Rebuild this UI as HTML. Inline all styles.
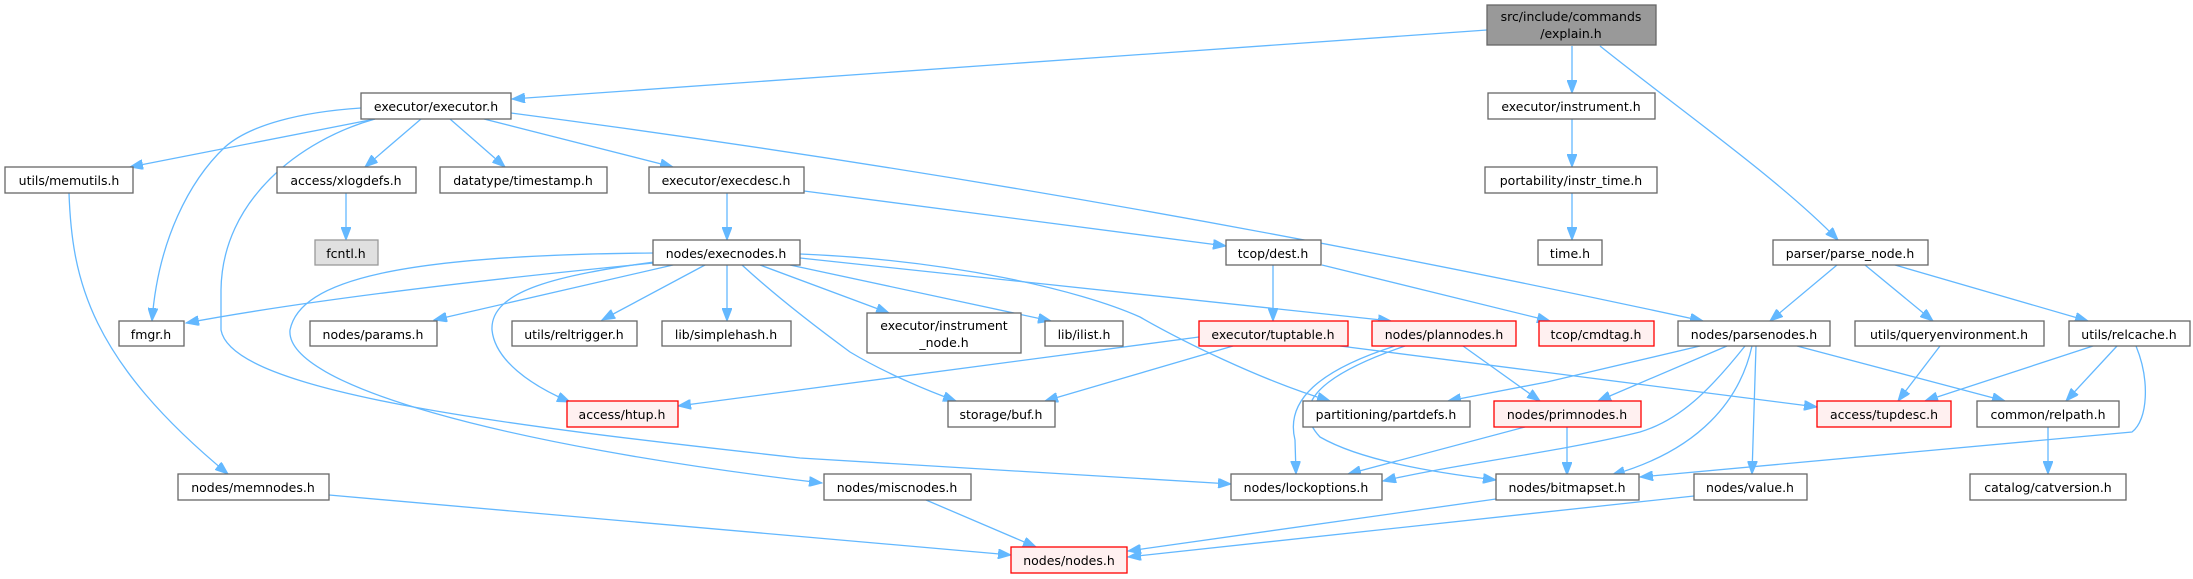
<!DOCTYPE html>
<html><head><meta charset="utf-8"><style>
html,body{margin:0;padding:0;background:#fff;}
svg{display:block;}
text{font-family:"DejaVu Sans","Liberation Sans",sans-serif;font-size:12.5px;fill:#000;text-anchor:middle;}
.e{fill:none;stroke:#63b8ff;stroke-width:1.3;marker-end:url(#a);}
.n{fill:#fff;stroke:#666;stroke-width:1.3;}
.r{fill:#fff0f0;stroke:#ff0000;stroke-width:1.3;}
</style></head><body>
<svg width="2193" height="579" viewBox="0 0 2193 579" xmlns="http://www.w3.org/2000/svg">
<defs><marker id="a" markerUnits="userSpaceOnUse" markerWidth="14" markerHeight="10" refX="13" refY="5" orient="auto"><path d="M0,0 L13,5 L0,10 z" fill="#63b8ff" stroke="#63b8ff"/></marker></defs>
<!-- edges -->
<path class="e" d="M1487,30 L512,99"/>
<path class="e" d="M1572,46 L1572,93"/>
<path class="e" d="M1600,46 C1680,110 1780,180 1838,240"/>
<path class="e" d="M1572,119 L1572,167"/>
<path class="e" d="M1572,193 L1572,240"/>
<path class="e" d="M375,119 L130,167"/>
<path class="e" d="M421,119 L365,167"/>
<path class="e" d="M450,119 L505,167"/>
<path class="e" d="M484,119 L673,167"/>
<path class="e" d="M511,113 Q1100,190 1703,321"/>
<path class="e" d="M361,108 C300,112 250,125 225,147 C190,180 158,240 152,321"/>
<path class="e" d="M375,119 C300,140 222,200 221,290 L221,330 C232,392 500,425 800,458 L1231,484"/>
<path class="e" d="M69,193 C72,280 90,360 228,474"/>
<path class="e" d="M346,193 L346,240"/>
<path class="e" d="M727,193 L727,240"/>
<path class="e" d="M804,191 L1226,246"/>
<path class="e" d="M1273,265 L1273,321"/>
<path class="e" d="M1322,265 L1550,321"/>
<path class="e" d="M654,263 C500,278 320,298 186,323"/>
<path class="e" d="M673,265 L434,320"/>
<path class="e" d="M705,265 L602,320"/>
<path class="e" d="M727,265 L727,321"/>
<path class="e" d="M760,265 L889,313"/>
<path class="e" d="M790,265 L1051,321"/>
<path class="e" d="M742,265 C780,300 820,330 850,352 C880,370 920,388 956,401"/>
<path class="e" d="M654,262 C560,275 490,290 492,330 C495,360 530,385 570,402"/>
<path class="e" d="M654,253 C400,255 300,280 290,330 C285,385 500,445 822,483"/>
<path class="e" d="M800,254 C950,260 1080,290 1140,317 C1180,340 1260,380 1330,401"/>
<path class="e" d="M800,258 L1391,321"/>
<path class="e" d="M1199,337 L678,406"/>
<path class="e" d="M1233,346 L1045,401"/>
<path class="e" d="M1340,346 L1817,407"/>
<path class="e" d="M1395,346 C1320,370 1285,400 1295,440 L1296,474"/>
<path class="e" d="M1405,346 C1320,375 1290,405 1320,437 C1360,460 1430,472 1496,480"/>
<path class="e" d="M1463,346 L1540,401"/>
<path class="e" d="M1837,265 L1770,321"/>
<path class="e" d="M1865,265 L1933,321"/>
<path class="e" d="M1895,265 L2088,321"/>
<path class="e" d="M1700,346 L1547,382 L1448,401"/>
<path class="e" d="M1727,346 L1598,401"/>
<path class="e" d="M1745,346 C1710,390 1680,420 1640,432 C1560,452 1450,465 1383,481"/>
<path class="e" d="M1752,346 C1740,400 1700,450 1612,475"/>
<path class="e" d="M1756,346 L1752,474"/>
<path class="e" d="M1797,346 L2005,401"/>
<path class="e" d="M1940,346 L1898,401"/>
<path class="e" d="M2093,346 L1925,401"/>
<path class="e" d="M2117,346 L2066,401"/>
<path class="e" d="M2136,346 C2150,380 2148,420 2132,432 L1640,477"/>
<path class="e" d="M2048,427 L2048,474"/>
<path class="e" d="M1525,427 L1348,474"/>
<path class="e" d="M1567,427 L1567,475"/>
<path class="e" d="M1496,499 L1128,551"/>
<path class="e" d="M1694,496 L1128,557"/>
<path class="e" d="M926,500 L1036,547"/>
<path class="e" d="M329,495 L1011,555"/>
<!-- nodes -->
<rect x="1487" y="5" width="169" height="40" fill="#999" stroke="#666" stroke-width="1.3"/>
<text x="1571" y="21">src/include/commands</text><text x="1571" y="38">/explain.h</text>
<rect class="n" x="361" y="93" width="150" height="26"/><text x="436" y="111">executor/executor.h</text>
<rect class="n" x="1488" y="93" width="167" height="26"/><text x="1571" y="111">executor/instrument.h</text>
<rect class="n" x="5" y="167" width="128" height="26"/><text x="69" y="185">utils/memutils.h</text>
<rect class="n" x="277" y="167" width="139" height="26"/><text x="346" y="185">access/xlogdefs.h</text>
<rect class="n" x="440" y="167" width="167" height="26"/><text x="523" y="185">datatype/timestamp.h</text>
<rect class="n" x="649" y="167" width="155" height="26"/><text x="726" y="185">executor/execdesc.h</text>
<rect class="n" x="1485" y="167" width="172" height="26"/><text x="1571" y="185">portability/instr_time.h</text>
<rect x="315" y="240" width="63" height="25" fill="#e0e0e0" stroke="#999" stroke-width="1.3"/><text x="346" y="258">fcntl.h</text>
<rect class="n" x="653" y="240" width="147" height="25"/><text x="726" y="258">nodes/execnodes.h</text>
<rect class="n" x="1226" y="240" width="95" height="25"/><text x="1273" y="258">tcop/dest.h</text>
<rect class="n" x="1538" y="240" width="64" height="25"/><text x="1570" y="258">time.h</text>
<rect class="n" x="1773" y="240" width="155" height="25"/><text x="1850" y="258">parser/parse_node.h</text>
<rect class="n" x="119" y="321" width="65" height="25"/><text x="151" y="339">fmgr.h</text>
<rect class="n" x="310" y="321" width="127" height="25"/><text x="373" y="339">nodes/params.h</text>
<rect class="n" x="512" y="321" width="125" height="25"/><text x="574" y="339">utils/reltrigger.h</text>
<rect class="n" x="662" y="321" width="129" height="25"/><text x="726" y="339">lib/simplehash.h</text>
<rect class="n" x="867" y="313" width="154" height="40"/><text x="944" y="330">executor/instrument</text><text x="944" y="347">_node.h</text>
<rect class="n" x="1045" y="321" width="78" height="25"/><text x="1084" y="339">lib/ilist.h</text>
<rect class="r" x="1199" y="321" width="149" height="25"/><text x="1273" y="339">executor/tuptable.h</text>
<rect class="r" x="1372" y="321" width="144" height="25"/><text x="1444" y="339">nodes/plannodes.h</text>
<rect class="r" x="1539" y="321" width="115" height="25"/><text x="1596" y="339">tcop/cmdtag.h</text>
<rect class="n" x="1678" y="321" width="152" height="25"/><text x="1754" y="339">nodes/parsenodes.h</text>
<rect class="n" x="1855" y="321" width="189" height="25"/><text x="1949" y="339">utils/queryenvironment.h</text>
<rect class="n" x="2069" y="321" width="121" height="25"/><text x="2129" y="339">utils/relcache.h</text>
<rect class="r" x="567" y="401" width="111" height="26"/><text x="622" y="419">access/htup.h</text>
<rect class="n" x="948" y="401" width="107" height="26"/><text x="1001" y="419">storage/buf.h</text>
<rect class="n" x="1303" y="401" width="167" height="26"/><text x="1386" y="419">partitioning/partdefs.h</text>
<rect class="r" x="1494" y="401" width="147" height="26"/><text x="1567" y="419">nodes/primnodes.h</text>
<rect class="r" x="1817" y="401" width="134" height="26"/><text x="1884" y="419">access/tupdesc.h</text>
<rect class="n" x="1977" y="401" width="142" height="26"/><text x="2048" y="419">common/relpath.h</text>
<rect class="n" x="178" y="474" width="151" height="26"/><text x="253" y="492">nodes/memnodes.h</text>
<rect class="n" x="824" y="474" width="147" height="26"/><text x="897" y="492">nodes/miscnodes.h</text>
<rect class="n" x="1231" y="474" width="151" height="26"/><text x="1306" y="492">nodes/lockoptions.h</text>
<rect class="n" x="1496" y="474" width="143" height="26"/><text x="1567" y="492">nodes/bitmapset.h</text>
<rect class="n" x="1694" y="474" width="113" height="26"/><text x="1750" y="492">nodes/value.h</text>
<rect class="n" x="1970" y="474" width="156" height="26"/><text x="2048" y="492">catalog/catversion.h</text>
<rect class="r" x="1011" y="547" width="116" height="26"/><text x="1069" y="565">nodes/nodes.h</text>
</svg>
</body></html>
